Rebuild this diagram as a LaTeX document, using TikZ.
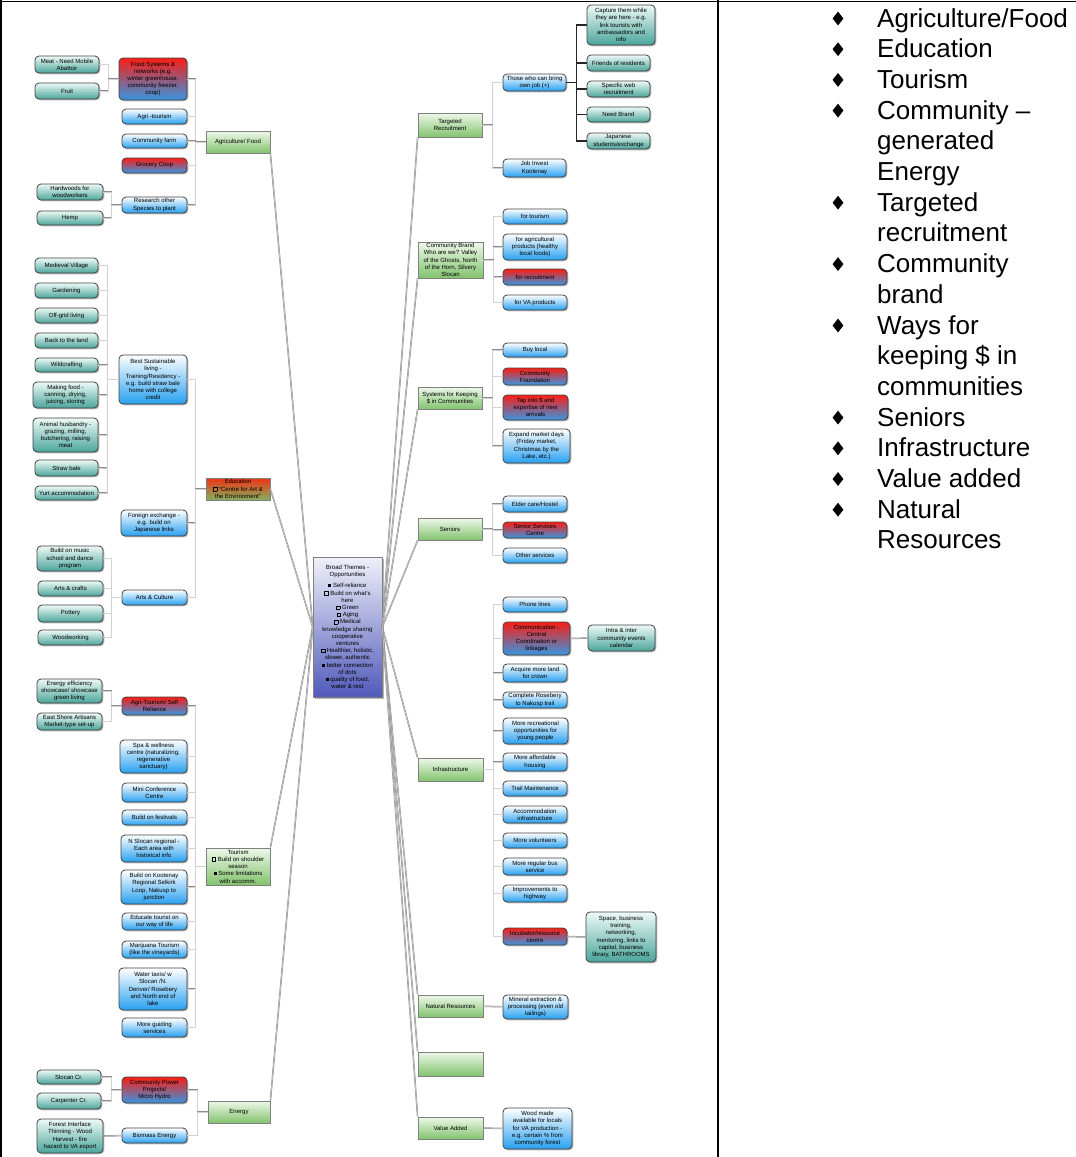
\documentclass[tikz,border=0pt]{standalone}
\usepackage{fontspec}
\setmainfont{Liberation Sans}
\usetikzlibrary{shapes.geometric,shadows}

\definecolor{skyblue}{RGB}{40,160,240}
\definecolor{tealtop}{RGB}{238,250,247}
\definecolor{tealleaf}{RGB}{75,165,155}
\definecolor{hotred}{RGB}{250,30,20}
\definecolor{midblue}{RGB}{55,150,225}
\definecolor{palegreen}{RGB}{238,248,233}
\definecolor{leafgreen}{RGB}{130,195,110}
\definecolor{themetop}{RGB}{240,240,250}
\definecolor{themebot}{RGB}{80,90,185}
\definecolor{eduorange}{RGB}{240,50,20}
\definecolor{edugreen}{RGB}{130,178,95}

\newcommand\hollowsq{\raisebox{0.4pt}{\setlength\fboxsep{0pt}\setlength\fboxrule{0.6pt}\fbox{\rule{0pt}{3pt}\hspace{3pt}}}}
\newcommand\fullsq{\rule[0.6pt]{3pt}{3pt}}

\begin{document}
\begin{tikzpicture}[x=1pt,y=-1pt,
    every node/.style={font=\fontsize{6}{7.2}\selectfont,align=center,inner sep=1pt},
    roundbox/.style={rounded corners=4pt,draw=black!75,line width=0.8pt,
      drop shadow={shadow xshift=1.3pt,shadow yshift=-1.3pt,opacity=.55}},
    bluebox/.style={roundbox,top color=white,bottom color=skyblue},
    tealbox/.style={roundbox,top color=tealtop,bottom color=tealleaf},
    redbox/.style={roundbox,top color=hotred,bottom color=midblue},
    greenbox/.style={draw=gray,line width=0.8pt,top color=palegreen,bottom color=leafgreen,
      drop shadow={shadow xshift=1pt,shadow yshift=-1pt,opacity=.35}},
    edubox/.style={greenbox,top color=eduorange,bottom color=edugreen},
    themebox/.style={draw=gray,line width=0.6pt,top color=themetop,bottom color=themebot,
      drop shadow={shadow xshift=2pt,shadow yshift=-2pt,opacity=.6}},
    wire/.style={draw=gray!90,double=gray!35,double distance=0.5pt,line width=0.5pt},
    darkwire/.style={draw=black!85,line width=1.2pt},
    tableline/.style={line width=1.6pt},
    listtext/.style={font=\fontsize{26}{30}\selectfont,anchor=base west,inner sep=0pt,align=left},
    bulletmark/.style={diamond,fill=black,minimum width=11,minimum height=14,inner sep=0pt}]
  \useasboundingbox (0,0) rectangle (1076,1157);

  % table
  \draw[tableline] (0,1.5) -- (1076,1.5);
  \draw[tableline] (1,0) -- (1,1157);
  \draw[tableline] (718,0) -- (718,1157);

  % centre
  \node[themebox,minimum width=69,minimum height=140] (broad) at (347.5,627) {Broad Themes -\\Opportunities\\[4pt]
    \fullsq{} Self-reliance\\\hollowsq{} Build on what's\\here\\\hollowsq{} Green\\\hollowsq{} Aging\\\hollowsq{} Medical\\knowledge sharing\\cooperative\\ventures\\
    \hollowsq{} Healthier, holistic,\\slower, authentic\\\fullsq{} better connection\\of dots\\\fullsq{} quality of food,\\water \& rest};

  % agriculture / food
  \node[greenbox,minimum width=64,minimum height=22] (agri) at (238,142) {Agriculture/ Food};
  \node[redbox,minimum width=68,minimum height=42] (foodsys) at (153,79) {Food Systems \&\\networks (e.g.\\winter greenhouse,\\community freezer,\\coop)};
  \node[bluebox,minimum width=65,minimum height=15] (agritour) at (154.5,116.5) {Agri -tourism};
  \node[bluebox,minimum width=65,minimum height=14] (commfarm) at (154.5,141) {Community farm};
  \node[redbox,minimum width=65,minimum height=15] (grocery) at (154.5,165.5) {Grocery Coop};
  \node[bluebox,minimum width=65,minimum height=16] (research) at (154.5,205) {Research other\\Species to plant};
  \node[tealbox,minimum width=64,minimum height=17] (meat) at (67,64.5) {Meat - Need Mobile\\Abattoir};
  \node[tealbox,minimum width=64,minimum height=16] (fruit) at (67,91) {Fruit};
  \node[tealbox,minimum width=66,minimum height=16] (hardwood) at (70,192) {Hardwoods for\\woodworkers};
  \node[tealbox,minimum width=66,minimum height=14] (hemp) at (70,218) {Hemp};

  % education
  \node[edubox,minimum width=64,minimum height=22] (educ) at (238,489) {Education\\\hollowsq{} ``Centre for Art \&\\the Environment''};
  \node[bluebox,minimum width=68,minimum height=49] (bestsust) at (153,379.5) {Best Sustainable\\living -\\Training/Residency -\\e.g. build straw bale\\home with college\\credit};
  \node[bluebox,minimum width=66,minimum height=26] (foreign) at (154,523) {Foreign exchange -\\e.g. build on\\Japanese links};
  \node[bluebox,minimum width=65,minimum height=15] (artscult) at (154.5,597.5) {Arts \& Culture};
  \node[tealbox,minimum width=63,minimum height=15] (medieval) at (66.5,265.5) {Medieval Village};
  \node[tealbox,minimum width=63,minimum height=15] (garden) at (66.5,290.5) {Gardening};
  \node[tealbox,minimum width=63,minimum height=15] (offgrid) at (66.5,315.5) {Off-grid living};
  \node[tealbox,minimum width=63,minimum height=15] (backland) at (66.5,340.5) {Back to the land};
  \node[tealbox,minimum width=63,minimum height=14] (wildcraft) at (66.5,365) {Wildcrafting};
  \node[tealbox,minimum width=65,minimum height=26] (makefood) at (65.5,395) {Making food -\\canning, drying,\\juicing, storing};
  \node[tealbox,minimum width=65,minimum height=34] (animal) at (65.5,435) {Animal husbandry -\\grazing, milling,\\butchering, raising\\meat};
  \node[tealbox,minimum width=63,minimum height=16] (straw) at (66.5,468) {Straw bale};
  \node[tealbox,minimum width=63,minimum height=14] (yurt) at (66.5,493) {Yurt accommodation};
  \node[tealbox,minimum width=66,minimum height=25] (music) at (70,558.5) {Build on music\\school and dance\\program};
  \node[tealbox,minimum width=65,minimum height=15] (artscrafts) at (70.5,588.5) {Arts \& crafts};
  \node[tealbox,minimum width=65,minimum height=17] (pottery) at (70.5,613.5) {Pottery};
  \node[tealbox,minimum width=65,minimum height=15] (woodwork) at (70.5,637.5) {Woodworking};

  % tourism
  \node[greenbox,minimum width=64,minimum height=37] (tourism) at (238,866.5) {Tourism\\\hollowsq{} Build on shoulder\\season\\\fullsq{} Some limitations\\with accomm.};
  \node[redbox,minimum width=65,minimum height=18] (agritsr) at (154.5,706) {Agri-Tourism/ Self\\Reliance};
  \node[bluebox,minimum width=67,minimum height=33] (spa) at (153.5,756.5) {Spa \& wellness\\centre (naturalizing,\\regenerative\\sanctuary)};
  \node[bluebox,minimum width=65,minimum height=19] (miniconf) at (154.5,792.5) {Mini Conference\\Centre};
  \node[bluebox,minimum width=65,minimum height=15] (festivals) at (154.5,817.5) {Build on festivals};
  \node[bluebox,minimum width=66,minimum height=27] (nslocan) at (154,848.5) {N Slocan regional -\\Each area with\\historical info};
  \node[bluebox,minimum width=66,minimum height=34] (kootenay) at (154,887) {Build on Kootenay\\Regional Selkirk\\Loop, Nakusp to\\junction};
  \node[bluebox,minimum width=65,minimum height=17] (educate) at (154.5,921.5) {Educate tourist on\\our way of life};
  \node[bluebox,minimum width=65,minimum height=17] (marijuana) at (154.5,949.5) {Marijuana Tourism\\(like the vineyards)};
  \node[bluebox,minimum width=68,minimum height=42] (water) at (153,989) {Water taxis/ w\\Slocan /N.\\Denver/ Rosebery\\and North end of\\lake};
  \node[bluebox,minimum width=65,minimum height=19] (guiding) at (154.5,1027.5) {More guiding\\services};
  \node[tealbox,minimum width=65,minimum height=24] (energyeff) at (69.5,691) {Energy efficiency\\showcase/ showcase\\green living};
  \node[tealbox,minimum width=65,minimum height=17] (eastshore) at (69.5,721.5) {East Shore Artisans\\Market-type set-up};

  % energy
  \node[greenbox,minimum width=62,minimum height=22] (energy) at (239,1112) {Energy};
  \node[redbox,minimum width=65,minimum height=26] (commpower) at (154.5,1090) {Community Power\\Projects/\\Micro Hydro};
  \node[bluebox,minimum width=65,minimum height=15] (biomass) at (154.5,1135.5) {Biomass Energy};
  \node[tealbox,minimum width=64,minimum height=14] (slocan) at (69,1077) {Slocan Cr.};
  \node[tealbox,minimum width=64,minimum height=16] (carpenter) at (69,1101) {Carpenter Cr.};
  \node[tealbox,minimum width=66,minimum height=34] (forest) at (70,1136) {Forest Interface\\Thinning - Wood\\Harvest - fire\\hazard to VA export};

  % targeted recruitment
  \node[greenbox,minimum width=64,minimum height=24] (targeted) at (450,125) {Targeted\\Recruitment};
  \node[bluebox,minimum width=63,minimum height=17] (thosewho) at (534.5,82.5) {Those who can bring\\own job (+)};
  \node[bluebox,minimum width=63,minimum height=18] (jobinvest) at (534.5,168) {Job Invest\\Kootenay};
  \node[tealbox,minimum width=68,minimum height=40] (capture) at (621,25) {Capture them while\\they are here - e.g.\\link tourists with\\ambassadors and\\info};
  \node[tealbox,minimum width=63,minimum height=16] (friends) at (618.5,63) {Friends of residents};
  \node[tealbox,minimum width=63,minimum height=16] (specweb) at (618.5,89) {Specific web\\recruitment};
  \node[tealbox,minimum width=63,minimum height=15] (needbrand) at (618.5,114.5) {Need Brand};
  \node[tealbox,minimum width=63,minimum height=16] (japanese) at (618.5,141) {Japanese\\students/exchange};

  % community brand
  \node[greenbox,minimum width=65,minimum height=36] (brand) at (450.5,260) {Community Brand\\Who are we? Valley\\of the Ghosts, North\\of the Horn, Silvery\\Slocan};
  \node[bluebox,minimum width=64,minimum height=15] (fortour) at (535,216.5) {for tourism};
  \node[bluebox,minimum width=64,minimum height=26] (foragri) at (535,247) {for agricultural\\products (healthy\\local foods)};
  \node[redbox,minimum width=64,minimum height=16] (forrecruit) at (535,277) {for recruitment};
  \node[bluebox,minimum width=64,minimum height=15] (forva) at (535,302.5) {for VA products};

  % keeping $ in communities
  \node[greenbox,minimum width=64,minimum height=22] (systems) at (450,398) {Systems for Keeping\\\$ in Communities};
  \node[bluebox,minimum width=64,minimum height=14] (buylocal) at (535,350) {Buy local};
  \node[redbox,minimum width=64,minimum height=17] (commfound) at (535,376.5) {Community\\Foundation};
  \node[redbox,minimum width=65,minimum height=25] (tapinto) at (535.5,407.5) {Tap into \$ and\\expertise of new\\arrivals};
  \node[bluebox,minimum width=67,minimum height=34] (expand) at (536.5,446) {Expand market days\\(Friday market,\\Christmas by the\\Lake, etc.)};

  % seniors
  \node[greenbox,minimum width=64,minimum height=22] (seniors) at (450,529) {Seniors};
  \node[bluebox,minimum width=64,minimum height=16] (eldercare) at (535,504) {Elder care/Hostel};
  \node[redbox,minimum width=64,minimum height=16] (seniorserv) at (535,530) {Senior Services\\Centre};
  \node[bluebox,minimum width=64,minimum height=15] (otherserv) at (535,555.5) {Other services};

  % infrastructure
  \node[greenbox,minimum width=65,minimum height=23] (infra) at (450.5,769.5) {Infrastructure};
  \node[bluebox,minimum width=64,minimum height=15] (phone) at (535,604.5) {Phone lines};
  \node[redbox,minimum width=67,minimum height=33] (communic) at (536.5,638.5) {Communication -\\Central\\Coordination or\\linkages};
  \node[tealbox,minimum width=67,minimum height=26] (intra) at (621.5,638) {Intra \& inter\\community events\\calendar};
  \node[bluebox,minimum width=64,minimum height=18] (acquire) at (535,673) {Acquire more land\\for crown};
  \node[bluebox,minimum width=64,minimum height=16] (complete) at (535,700) {Complete Rosebery\\to Nakusp trail};
  \node[bluebox,minimum width=65,minimum height=26] (morerec) at (535.5,731) {More recreational\\opportunities for\\young people};
  \node[bluebox,minimum width=64,minimum height=18] (afford) at (535,762) {More affordable\\housing};
  \node[bluebox,minimum width=64,minimum height=15] (trailmaint) at (535,788.5) {Trail Maintenance};
  \node[bluebox,minimum width=64,minimum height=17] (accom) at (535,814.5) {Accommodation\\infrastructure};
  \node[bluebox,minimum width=64,minimum height=15] (volunteers) at (535,840.5) {More volunteers};
  \node[bluebox,minimum width=64,minimum height=17] (bus) at (535,866.5) {More regular bus\\service};
  \node[bluebox,minimum width=64,minimum height=17] (highway) at (535,893.5) {Improvements to\\highway};
  \node[redbox,minimum width=64,minimum height=17] (incubator) at (535,936.5) {Incubator/resource\\centre};
  \node[tealbox,minimum width=70,minimum height=50] (space) at (621,937) {Space, business\\training,\\networking,\\mentoring, links to\\capital, business\\library, BATHROOMS};

  % natural resources, value added
  \node[greenbox,minimum width=65,minimum height=22] (natres) at (450.5,1006) {Natural Resources};
  \node[bluebox,minimum width=65,minimum height=24] (mineral) at (535.5,1007) {Mineral extraction \&\\processing (even old\\tailings)};
  \node[greenbox,minimum width=65,minimum height=24] (emptyg) at (450.5,1064) {};
  \node[greenbox,minimum width=65,minimum height=22] (valueadd) at (450.5,1128) {Value Added};
  \node[bluebox,minimum width=69,minimum height=41] (wood) at (537.5,1128.5) {Wood made\\available for locals\\for VA production -\\e.g. certain \% from\\community forest};

  % spokes
  \draw[wire] (agri.south east) -- (broad.west);
  \draw[wire] (educ.east) -- (broad.west);
  \draw[wire] (tourism.north east) -- (broad.west);
  \draw[wire] (energy.north east) -- (broad.west);
  \foreach \m in {targeted,brand,systems,seniors}
    \draw[wire] (\m.south west) -- (broad.east);
  \foreach \m in {infra,natres,emptyg,valueadd}
    \draw[wire] (\m.north west) -- (broad.east);

  % left brackets
  \foreach \c in {foodsys,agritour,commfarm,grocery,research}
    \draw[wire] (agri.west) -- ++(-10,0) |- (\c.east);
  \foreach \c in {meat,fruit}
    \draw[wire] (foodsys.west) -- ++(-10,0) |- (\c.east);
  \foreach \c in {hardwood,hemp}
    \draw[wire] (research.west) -- ++(-10,0) |- (\c.east);
  \foreach \c in {bestsust,foreign,artscult}
    \draw[wire] (educ.west) -- ++(-10,0) |- (\c.east);
  \foreach \c in {medieval,garden,offgrid,backland,wildcraft,makefood,animal,straw,yurt}
    \draw[wire] (bestsust.west) -- ++(-11,0) |- (\c.east);
  \foreach \c in {music,artscrafts,pottery,woodwork}
    \draw[wire] (artscult.west) -- ++(-10,0) |- (\c.east);
  \foreach \c in {agritsr,spa,miniconf,festivals,nslocan,kootenay,educate,marijuana,water,guiding}
    \draw[wire] (tourism.west) -- ++(-10,0) |- (\c.east);
  \foreach \c in {energyeff,eastshore}
    \draw[wire] (agritsr.west) -- ++(-10,0) |- (\c.east);
  \foreach \c in {commpower,biomass}
    \draw[wire] (energy.west) -- ++(-10,0) |- (\c.east);
  \foreach \c in {slocan,carpenter}
    \draw[wire] (commpower.west) -- ++(-10,0) |- (\c.east);
  \draw[wire] (biomass) -- (forest);

  % right brackets
  \foreach \c in {thosewho,jobinvest}
    \draw[wire] (targeted.east) -- ++(10,0) |- (\c.west);
  \foreach \c in {capture,friends,specweb,needbrand,japanese}
    \draw[darkwire] (thosewho.east) -- ++(10,0) |- (\c.west);
  \foreach \c in {fortour,foragri,forrecruit,forva}
    \draw[wire] (brand.east) -- ++(10,0) |- (\c.west);
  \foreach \c in {buylocal,commfound,tapinto,expand}
    \draw[wire] (systems.east) -- ++(10,0) |- (\c.west);
  \foreach \c in {eldercare,seniorserv,otherserv}
    \draw[wire] (seniors.east) -- ++(10,0) |- (\c.west);
  \foreach \c in {phone,communic,acquire,complete,morerec,afford,trailmaint,accom,volunteers,bus,highway,incubator}
    \draw[wire] (infra.east) -- ++(10,0) |- (\c.west);
  \draw[wire] (communic) -- (intra);
  \draw[wire] (incubator) -- (space);
  \draw[wire] (natres) -- (mineral);
  \draw[wire] (valueadd) -- (wood);

  % list of themes
  \foreach [count=\i from 0] \t in {Agriculture/Food,Education,Tourism,Community --,generated,Energy,Targeted,recruitment,Community,brand,Ways for,keeping \$ in,communities,Seniors,Infrastructure,Value added,Natural,Resources}
    \node[listtext] (item\i) at (877,27+30.7*\i) {\t};
  \foreach \j in {0,1,2,3,6,8,10,13,14,15,16}
    \node[bulletmark] (mark\j) at (838,18.5+30.7*\j) {};
\end{tikzpicture}
\end{document}
